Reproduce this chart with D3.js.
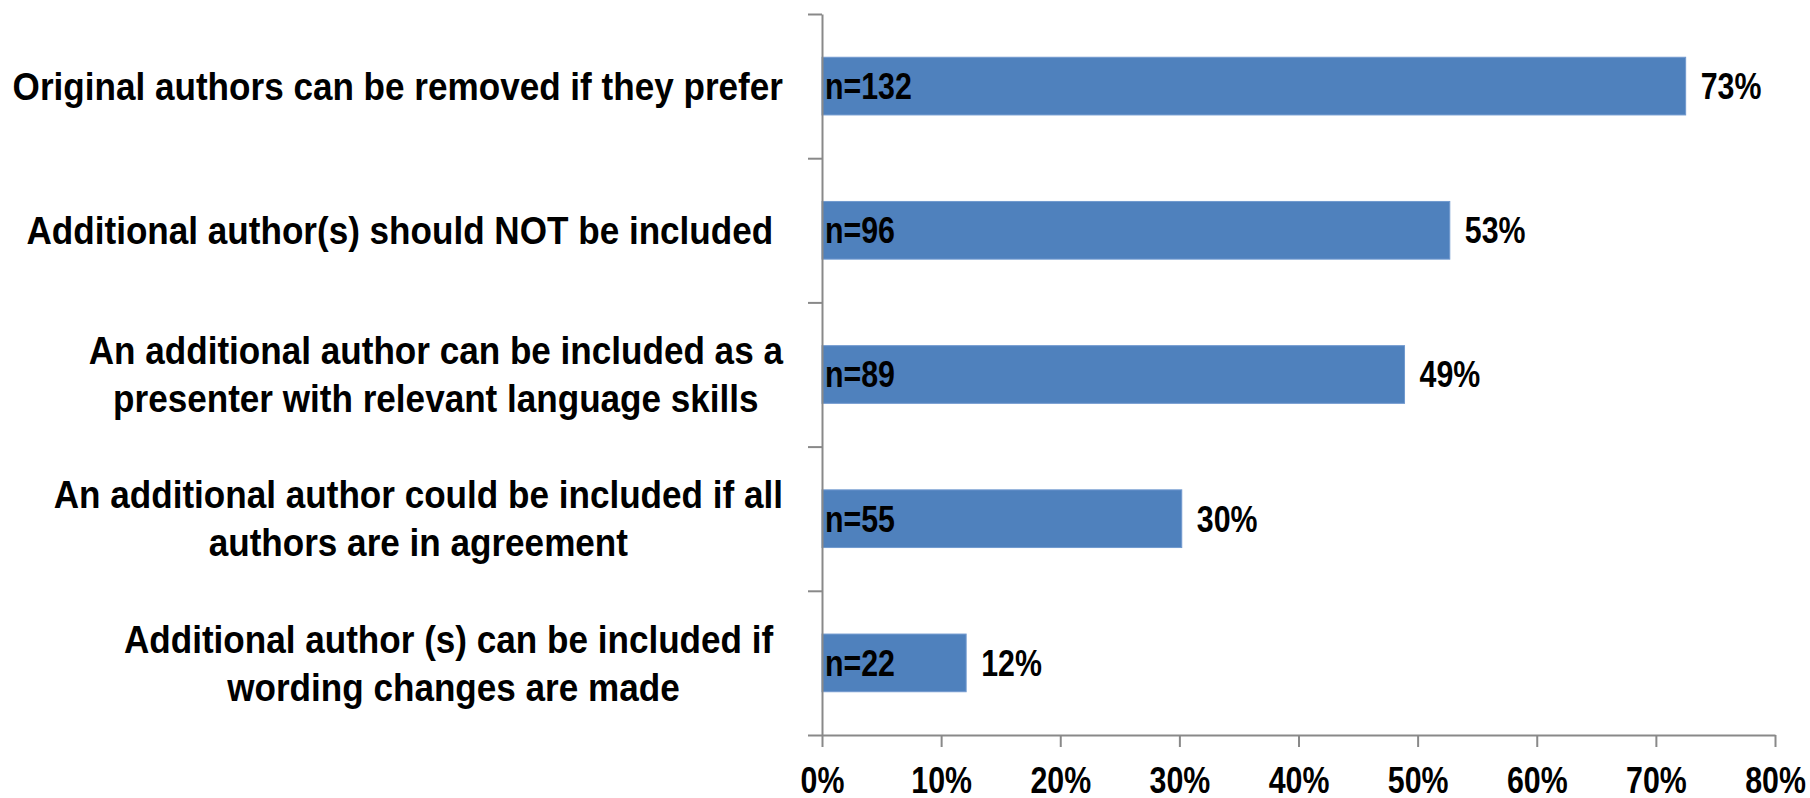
<!DOCTYPE html>
<html><head><meta charset="utf-8">
<script src="https://cdn.jsdelivr.net/npm/d3@7"></script>
<style>
html,body{margin:0;padding:0;background:#fff;overflow:hidden;}
svg text{font-family:"Liberation Sans",Arial,sans-serif;font-weight:bold;fill:#000;}
</style></head><body>
<svg id="chart" width="1810" height="798"></svg>
<script>
// Survey statements (one entry per bar, split into display lines)
const categories = [
  ["Original authors can be removed if they prefer"],
  ["Additional author(s) should NOT be included "],
  ["An additional author can be included as a", "presenter with relevant language skills"],
  ["An additional author could be included if all", "authors are in agreement"],
  ["Additional author (s) can be included if ", "wording changes are made"]
];
// Respondent counts shown inside each bar
const counts = [132, 96, 89, 55, 22];
// Share of respondents, in percent
const shares = [72.5, 52.7, 48.9, 30.2, 12.1];
// Percent axis ticks
const xTicks = [0, 10, 20, 30, 40, 50, 60, 70, 80];

const plot = {left: 822, right: 1775, top: 14, bottom: 735};
const axisColor = "#898989";
const barColor = "#4F81BD";
const fontSize = 37;      // axis and bar labels
const catFontSize = 39;   // category labels
const narrowK = 0.82;     // horizontal squeeze for a narrow bold face
const catK = 0.9;

const svg = d3.select("#chart");

// Squeeze a text horizontally about its own origin, placed at tx
function squeeze(sel, k, tx) {
  sel.each(function (d, i) {
    const t = typeof tx === "function" ? tx.call(this, d, i) : tx;
    d3.select(this).attr("x", 0).attr("transform", `translate(${t},0) scale(${k},1)`);
  });
  return sel;
}

const x = d3.scaleLinear().domain([0, 80]).range([plot.left, plot.right]);
const y = d3.scaleBand().domain(d3.range(categories.length))
  .range([plot.top, plot.bottom]).paddingInner(0.6).paddingOuter(0.3);
const yEdge = d3.scaleLinear().domain([0, categories.length]).range([plot.top, plot.bottom]);

// Bars
svg.append("g").selectAll("rect").data(shares).join("rect")
  .attr("x", x(0))
  .attr("y", (d, i) => y(i))
  .attr("width", d => x(d) - x(0))
  .attr("height", y.bandwidth())
  .attr("fill", barColor)
  .attr("stroke", "#7199cf")
  .attr("stroke-width", 1);

// Y axis: category separators
const gy = svg.append("g").attr("transform", `translate(${plot.left},0)`)
  .call(d3.axisLeft(yEdge).tickValues(d3.range(categories.length + 1))
    .tickSize(14).tickSizeOuter(0).tickFormat(""));
gy.selectAll("text").remove();
gy.selectAll("path,line").attr("stroke", axisColor).attr("stroke-width", 2);

// X axis
const gx = svg.append("g").attr("transform", `translate(0,${plot.bottom})`)
  .call(d3.axisBottom(x).tickValues(xTicks).tickSize(12).tickSizeOuter(0)
    .tickPadding(20).tickFormat(d => d + "%"));
gx.attr("font-family", null).attr("font-size", null);
gx.selectAll("path,line").attr("stroke", axisColor).attr("stroke-width", 2);
squeeze(gx.selectAll("text").attr("font-size", fontSize).attr("fill", "#000"), narrowK, 0);

// Category labels: each block right-aligned, lines centred within block
const lineH = 48;
const labelRight = 783;
const labels = svg.append("g");
categories.forEach((lines, i) => {
  const cy = y(i) + y.bandwidth() / 2;
  const texts = labels.append("g").selectAll("text").data(lines).join("text")
    .attr("font-size", catFontSize)
    .style("white-space", "pre")
    .attr("text-anchor", "middle")
    .attr("dy", "0.35em")
    .attr("y", (d, j) => cy + (j - (lines.length - 1) / 2) * lineH)
    .text(d => d);
  const maxW = d3.max(texts.nodes(), n => n.getComputedTextLength()) * catK;
  squeeze(texts, catK, labelRight - maxW / 2);
});

// Counts inside bars
squeeze(svg.append("g").selectAll("text").data(counts).join("text")
  .attr("y", (d, i) => y(i) + y.bandwidth() / 2)
  .attr("dy", "0.35em")
  .attr("font-size", fontSize)
  .text(d => "n=" + d), narrowK, x(0) + 3);

// Percent labels after bars
squeeze(svg.append("g").selectAll("text").data(shares).join("text")
  .attr("y", (d, i) => y(i) + y.bandwidth() / 2)
  .attr("dy", "0.35em")
  .attr("font-size", fontSize)
  .text(d => Math.round(d) + "%"), narrowK, d => x(d) + 15);
</script>
</body></html>
